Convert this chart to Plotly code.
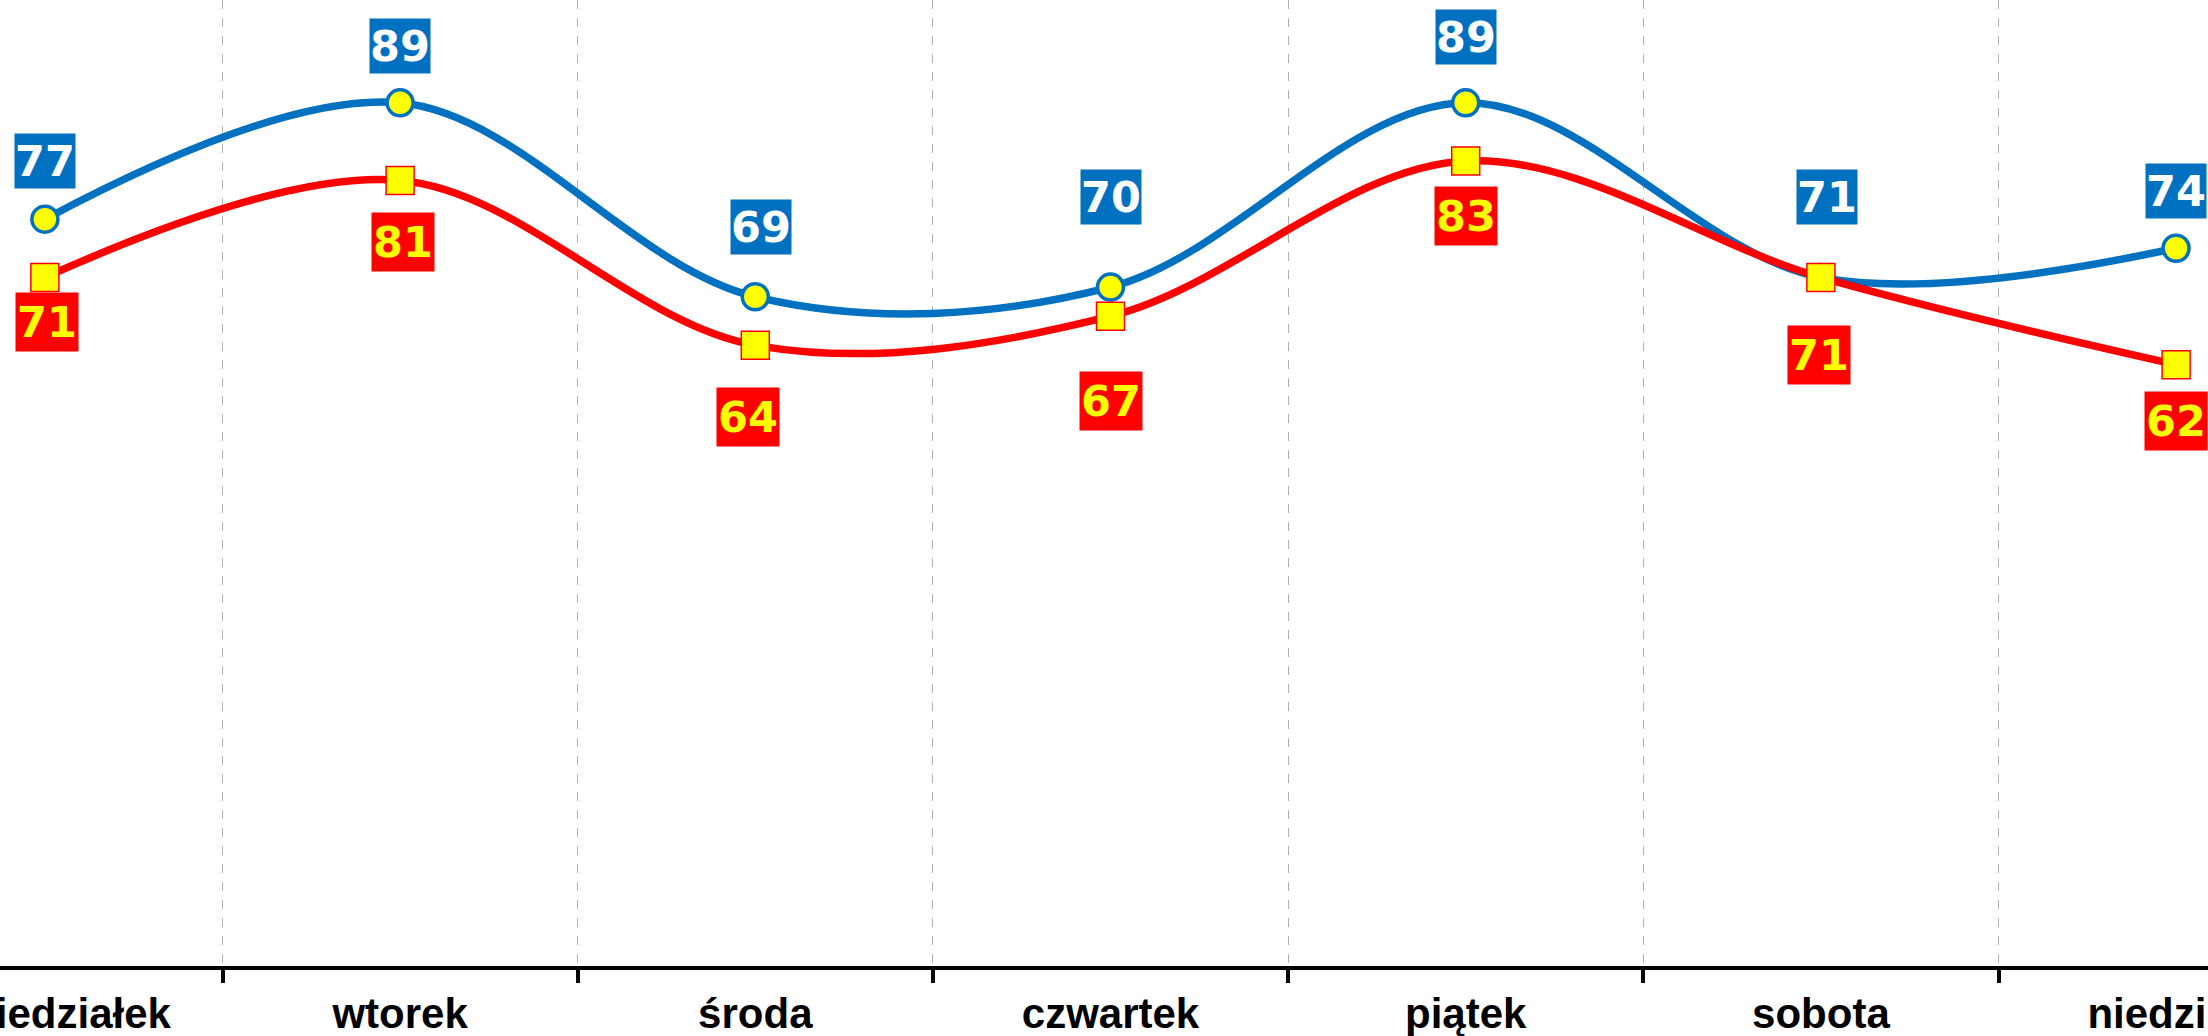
import plotly.graph_objects as go

days = ["poniedziałek", "wtorek", "środa", "czwartek", "piątek", "sobota", "niedziela"]
blue_values = [77, 89, 69, 70, 89, 71, 74]
red_values = [71, 81, 64, 67, 83, 71, 62]

BLUE = "#0070C0"
RED = "#FF0000"
YELLOW = "#FFFF00"

# label offsets in px (the original labels were hand-placed)
blue_shift = [58, 57, 70, 90, 66, 80, 57]
red_shift = [-45, -62, -72, -85, -55, -78, -56]
blue_dx = [0, 0, 6, 0, 0, 6, 0]
red_dx = [2, 3, -7, 0, 0, -2, 0]

fig = go.Figure()

fig.add_trace(go.Scatter(
    x=days, y=blue_values, mode="lines+markers",
    line=dict(color=BLUE, width=7.5, shape="spline", smoothing=1.0),
    marker=dict(symbol="circle", size=26, color=YELLOW, line=dict(color=BLUE, width=3.5)),
    cliponaxis=False,
))
fig.add_trace(go.Scatter(
    x=days, y=red_values, mode="lines+markers",
    line=dict(color=RED, width=7.5, shape="spline", smoothing=1.0),
    marker=dict(symbol="square", size=28, color=YELLOW, line=dict(color=RED, width=1.5)),
    cliponaxis=False,
))

label_font = "DejaVu Sans, Liberation Sans, Arial"
annotations = []
for i, d in enumerate(days):
    annotations.append(dict(
        x=d, y=blue_values[i], text="<b>%d</b>" % blue_values[i], showarrow=False,
        yshift=blue_shift[i], xshift=blue_dx[i],
        font=dict(family=label_font, size=43, color="white"),
        bgcolor=BLUE, width=60, height=54, borderpad=0,
    ))
    annotations.append(dict(
        x=d, y=red_values[i], text="<b>%d</b>" % red_values[i], showarrow=False,
        yshift=red_shift[i], xshift=red_dx[i],
        font=dict(family=label_font, size=43, color=YELLOW),
        bgcolor=RED, width=62, height=58, borderpad=0,
    ))

fig.update_layout(
    width=2208, height=1036,
    margin=dict(l=0, r=0, t=0, b=70),
    paper_bgcolor="white", plot_bgcolor="white",
    showlegend=False,
    annotations=annotations,
)
fig.update_xaxes(
    type="category", range=[-0.1264, 6.0898], automargin=False,
    tickson="boundaries", ticks="outside", ticklen=13, tickwidth=4, tickcolor="black",
    showline=True, linecolor="black", linewidth=4,
    showgrid=True, gridcolor="#b0b0b0", gridwidth=1, griddash="dash",
    tickfont=dict(family="Liberation Sans, Arial", size=42, color="black", weight="bold"),
    ticklabelstandoff=8,
    zeroline=False,
)
fig.update_yaxes(range=[0, 99.6], visible=False, showgrid=False, zeroline=False, automargin=False)

# drop the default page margin so the figure sits flush with the window
fig.write_html("out.html", config={"displayModeBar": False},
               post_script="document.body.style.margin='0';")
